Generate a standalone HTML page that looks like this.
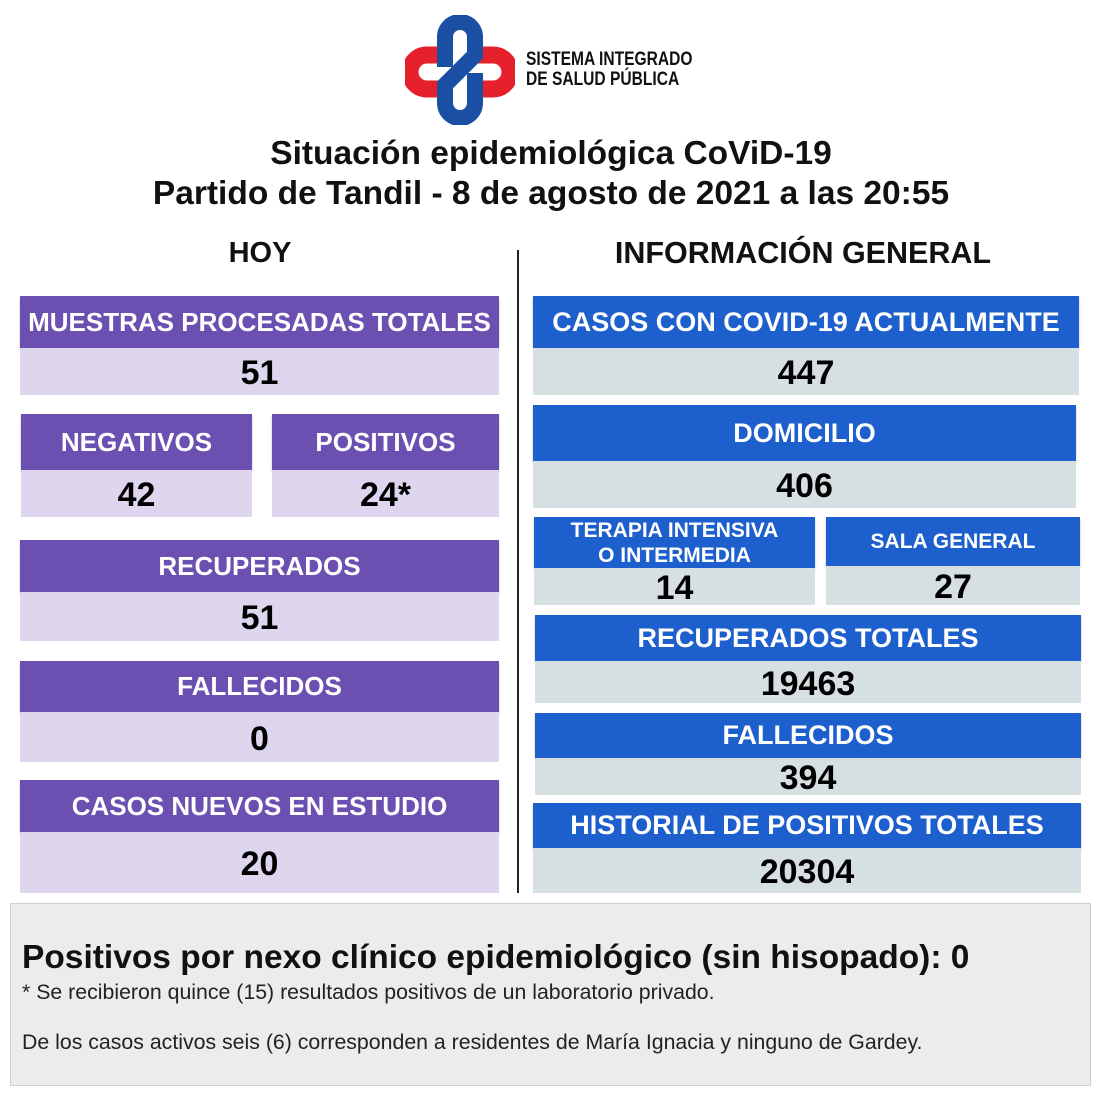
<!DOCTYPE html>
<html><head><meta charset="utf-8"><style>
body{margin:0;width:1102px;height:1102px;background:#fff;position:relative;font-family:"Liberation Sans",sans-serif;overflow:hidden}
.a{position:absolute;display:flex;align-items:center;justify-content:center;text-align:center;box-sizing:border-box}
.ph{background:#6b50b2;color:#fff;font-weight:bold;font-size:26px;box-shadow:0 2px 2px rgba(0,0,0,.25)}
.pv{background:#ddd6ee;color:#000;font-weight:bold;font-size:34px;padding-top:4px}
.bh{background:#1d5fcc;color:#fff;font-weight:bold;font-size:27px;box-shadow:0 2px 2px rgba(0,0,0,.25)}
.bv{background:#d6e0e3;color:#000;font-weight:bold;font-size:34px;padding-top:4px}
.t{position:absolute;font-weight:bold;color:#111;text-align:center}
</style></head><body>
<svg style="position:absolute;left:405px;top:15px" width="110" height="110" viewBox="0 0 110 110">
<path d="M48 40 H22 a17 17 0 0 0 0 34 H48" fill="none" stroke="#e5202b" stroke-width="17"/>
<path d="M62 40 H88 a17 17 0 0 1 0 34 H62" fill="none" stroke="#e5202b" stroke-width="17"/>
<path d="M40 52 V22 a15 15 0 0 1 30 0 V40 L40 70 V88 a15 15 0 0 0 30 0 V58" fill="none" stroke="#1b4fa3" stroke-width="16"/>
</svg>
<div class="t" style="left:526px;top:50px;font-size:19px;text-align:left;line-height:20px;transform:scaleX(0.82);transform-origin:left">SISTEMA INTEGRADO<br>DE SALUD PÚBLICA</div>
<div class="t" style="left:0;width:1102px;top:134px;font-size:33.5px;line-height:40px">Situación epidemiológica CoViD-19<br>Partido de Tandil - 8 de agosto de 2021 a las 20:55</div>
<div class="t" style="left:160px;width:200px;top:237px;font-size:29px">HOY</div>
<div class="t" style="left:550px;width:506px;top:236px;font-size:30.5px">INFORMACIÓN GENERAL</div>
<div style="position:absolute;left:517px;top:250px;width:2px;height:643px;background:#222"></div>

<div class="a ph" style="left:20px;top:296px;width:479px;height:52px">MUESTRAS PROCESADAS TOTALES</div>
<div class="a pv" style="left:20px;top:348px;width:479px;height:47px">51</div>
<div class="a ph" style="left:21px;top:414px;width:231px;height:56px">NEGATIVOS</div>
<div class="a pv" style="left:21px;top:470px;width:231px;height:47px">42</div>
<div class="a ph" style="left:272px;top:414px;width:227px;height:56px">POSITIVOS</div>
<div class="a pv" style="left:272px;top:470px;width:227px;height:47px">24*</div>
<div class="a ph" style="left:20px;top:540px;width:479px;height:52px">RECUPERADOS</div>
<div class="a pv" style="left:20px;top:592px;width:479px;height:49px">51</div>
<div class="a ph" style="left:20px;top:661px;width:479px;height:51px">FALLECIDOS</div>
<div class="a pv" style="left:20px;top:712px;width:479px;height:50px">0</div>
<div class="a ph" style="left:20px;top:780px;width:479px;height:52px">CASOS NUEVOS EN ESTUDIO</div>
<div class="a pv" style="left:20px;top:832px;width:479px;height:61px">20</div>

<div class="a bh" style="left:533px;top:296px;width:546px;height:52px">CASOS CON COVID-19 ACTUALMENTE</div>
<div class="a bv" style="left:533px;top:348px;width:546px;height:47px">447</div>
<div class="a bh" style="left:533px;top:405px;width:543px;height:56px">DOMICILIO</div>
<div class="a bv" style="left:533px;top:461px;width:543px;height:47px">406</div>
<div class="a bh" style="left:534px;top:517px;width:281px;height:51px;font-size:21px;line-height:25px">TERAPIA INTENSIVA<br>O INTERMEDIA</div>
<div class="a bv" style="left:534px;top:568px;width:281px;height:37px">14</div>
<div class="a bh" style="left:826px;top:517px;width:254px;height:49px;font-size:21px">SALA GENERAL</div>
<div class="a bv" style="left:826px;top:566px;width:254px;height:39px">27</div>
<div class="a bh" style="left:535px;top:615px;width:546px;height:46px">RECUPERADOS TOTALES</div>
<div class="a bv" style="left:535px;top:661px;width:546px;height:42px">19463</div>
<div class="a bh" style="left:535px;top:713px;width:546px;height:45px">FALLECIDOS</div>
<div class="a bv" style="left:535px;top:758px;width:546px;height:37px">394</div>
<div class="a bh" style="left:533px;top:803px;width:548px;height:45px">HISTORIAL DE POSITIVOS TOTALES</div>
<div class="a bv" style="left:533px;top:848px;width:548px;height:45px">20304</div>

<div style="position:absolute;left:10px;top:903px;width:1081px;height:183px;background:#ececec;border:1px solid #d0d0d0;box-sizing:border-box"></div>
<div style="position:absolute;left:22px;top:939px;font-size:33.5px;font-weight:bold;color:#111">Positivos por nexo clínico epidemiológico (sin hisopado): 0</div>
<div style="position:absolute;left:22px;top:980px;font-size:21.3px;color:#222">* Se recibieron quince (15) resultados positivos de un laboratorio privado.</div>
<div style="position:absolute;left:22px;top:1030px;font-size:21.3px;color:#222">De los casos activos seis (6) corresponden a residentes de María Ignacia y ninguno de Gardey.</div>
</body></html>
